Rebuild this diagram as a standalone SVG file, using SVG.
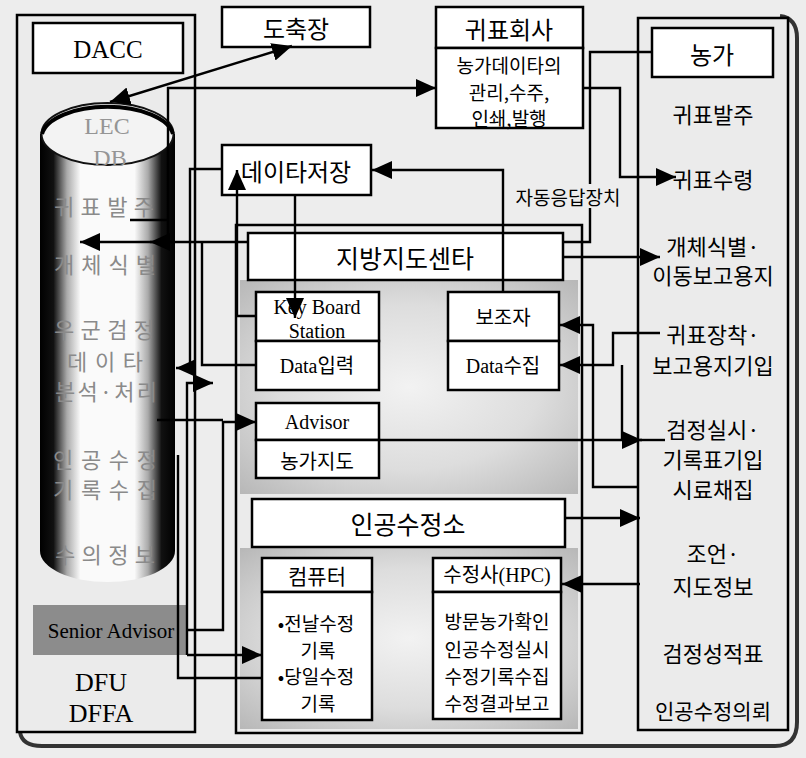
<svg xmlns="http://www.w3.org/2000/svg" width="806" height="758" viewBox="0 0 806 758">
<style>
.bg{fill:#ededed}
.panel{fill:#ebebeb;stroke:#000;stroke-width:2.5}
.box{fill:#fff;stroke:#000;stroke-width:2.5}
.ln{fill:none;stroke:#000;stroke-width:2.4}
.k{font-family:"Noto Sans CJK KR","Noto Sans",sans-serif;fill:#000;text-anchor:middle;dominant-baseline:central}
.s{font-family:"Liberation Serif","Noto Sans CJK KR",serif;fill:#000;text-anchor:middle;dominant-baseline:central}
.cy{font-family:"Noto Sans CJK KR",sans-serif;fill:#8a8a8a;font-size:22px;text-anchor:middle;dominant-baseline:central}
.cys{font-family:"Liberation Serif",serif;fill:#959595;font-size:24px;text-anchor:middle;dominant-baseline:central}
.f24{font-size:24px}.f20{font-size:20px}.f19{font-size:19px}.f22{font-size:22px}.f26{font-size:26px}
</style>
<defs>
<marker id="ah" viewBox="0 0 20 18" refX="20" refY="9" markerWidth="20" markerHeight="18" markerUnits="userSpaceOnUse" orient="auto-start-reverse"><path d="M0,0 L20,9 L0,18 z" fill="#000"/></marker>
<linearGradient id="cylg" x1="0" y1="0" x2="1" y2="0">
<stop offset="0" stop-color="#000"/><stop offset="0.1" stop-color="#111"/><stop offset="0.2" stop-color="#aaa"/><stop offset="0.3" stop-color="#fafafa"/><stop offset="0.7" stop-color="#fafafa"/><stop offset="0.8" stop-color="#aaa"/><stop offset="0.9" stop-color="#111"/><stop offset="1" stop-color="#000"/>
</linearGradient>
<radialGradient id="shade" cx="0.5" cy="0.5" r="0.7">
<stop offset="0" stop-color="#f2f2f2"/><stop offset="0.55" stop-color="#dddddd"/><stop offset="1" stop-color="#b8b8b8"/>
</radialGradient>
</defs>
<rect class="bg" x="0" y="0" width="806" height="758"/>
<path d="M20,732 Q22,746 42,746 H775 Q797,746 797,722 V38 Q797,18 780,16" fill="none" stroke="#333" stroke-width="4"/>

<g id="dfu-panel">
<rect class="panel" x="17" y="15" width="178" height="717"/>
<text class="s f26" x="101" y="682">DFU</text>
<text class="s f26" x="101" y="713">DFFA</text>
</g>
<g id="farm-panel">
<rect class="panel" x="638" y="18" width="150" height="712"/>
<text class="k f22" x="713" y="113">귀표발주</text>
<text class="k f22" x="713" y="178">귀표수령</text>
<text class="k f22" x="713" y="245">개체식별·</text>
<text class="k f22" x="713" y="274">이동보고용지</text>
<text class="k f22" x="713" y="333">귀표장착·</text>
<text class="k f22" x="713" y="364">보고용지기입</text>
<text class="k f22" x="713" y="428">검정실시·</text>
<text class="k f22" x="713" y="458">기록표기입</text>
<text class="k f22" x="713" y="488">시료채집</text>
<text class="k f22" x="713" y="552">조언·</text>
<text class="k f22" x="713" y="585">지도정보</text>
<text class="k f22" x="713" y="652">검정성적표</text>
<text class="k" style="font-size:21px" x="713" y="710">인공수정의뢰</text>
</g>
<g id="center-panel">
<rect class="panel" x="236" y="225" width="346" height="508"/>
<rect x="240" y="280" width="338" height="214" fill="url(#shade)"/>
<rect x="240" y="548" width="338" height="181" fill="url(#shade)"/>
</g>

<g id="dacc">
<rect class="box" x="33" y="23" width="150" height="50"/>
<text class="s" style="font-size:25px" x="108" y="49">DACC</text>
</g>
<g id="lec-db">
<rect x="40" y="134" width="135" height="417" fill="url(#cylg)"/>
<ellipse cx="107.5" cy="551" rx="67.5" ry="31" fill="url(#cylg)"/>
<ellipse cx="107.5" cy="134" rx="66" ry="31" fill="#f3f3f3" stroke="#111" stroke-width="2"/>
<path d="M42,134 A66,31 0 0 1 173,134" fill="none" stroke="#000" stroke-width="4"/>
<text class="cys" x="107" y="126">LEC</text>
<text class="cys" x="110" y="158">DB</text>
<text class="cy" x="104" y="205" textLength="100" lengthAdjust="spacing">귀표발주</text>
<text class="cy" x="105" y="263" textLength="102" lengthAdjust="spacing">개체식별</text>
<text class="cy" x="104" y="328" textLength="100" lengthAdjust="spacing">우군검정</text>
<text class="cy" x="105" y="360" textLength="76" lengthAdjust="spacing">데이타</text>
<text class="cy" x="106" y="390" textLength="102" lengthAdjust="spacing">분석·처리</text>
<text class="cy" x="105" y="458" textLength="104" lengthAdjust="spacing">인공수정</text>
<text class="cy" x="105" y="488" textLength="104" lengthAdjust="spacing">기록수집</text>
<text class="cy" x="105" y="553" textLength="100" lengthAdjust="spacing">수의정보</text>
</g>
<g id="senior-advisor">
<rect x="33" y="605" width="154" height="50" fill="#8c8c8c"/>
<text class="s" style="font-size:21px" x="111" y="631">Senior Advisor</text>
</g>

<g id="slaughterhouse">
<rect class="box" x="222" y="7" width="148" height="40"/>
<text class="k f24" x="296" y="27">도축장</text>
</g>
<g id="eartag-company">
<rect class="box" x="436" y="7" width="147" height="41"/>
<rect class="box" x="436" y="48" width="147" height="80"/>
<text class="k f24" x="509" y="28">귀표회사</text>
<text class="k f19" x="509" y="64">농가데이타의</text>
<text class="k f19" x="509" y="91">관리,수주,</text>
<text class="k f19" x="509" y="117">인쇄,발행</text>
</g>
<g id="data-store">
<rect class="box" x="222" y="145" width="149" height="50"/>
<text class="k f24" x="296" y="170">데이타저장</text>
</g>
<g id="farm">
<rect class="box" x="652" y="28" width="121" height="49"/>
<text class="k f24" x="712" y="53">농가</text>
</g>
<g id="regional-center">
<rect class="box" x="248" y="233" width="315" height="47"/>
<text class="k" style="font-size:25px" x="405" y="257">지방지도센타</text>
</g>
<g id="keyboard-station">
<rect class="box" x="256" y="292" width="123" height="49"/>
<rect class="box" x="256" y="341" width="123" height="49"/>
<text class="s f20" x="317" y="307">Key Board</text>
<text class="s f20" x="317" y="331">Station</text>
<text class="s f20" x="317" y="366">Data입력</text>
</g>
<g id="assistant">
<rect class="box" x="448" y="292" width="111" height="49"/>
<rect class="box" x="448" y="341" width="111" height="49"/>
<text class="k f20" x="503" y="316">보조자</text>
<text class="s f20" x="503" y="366">Data수집</text>
</g>
<g id="advisor">
<rect class="box" x="256" y="403" width="123" height="37"/>
<rect class="box" x="256" y="440" width="123" height="38"/>
<text class="s f20" x="317" y="422">Advisor</text>
<text class="k f20" x="317" y="460">농가지도</text>
</g>
<g id="ai-station">
<rect class="box" x="252" y="499" width="313" height="48"/>
<text class="k" style="font-size:25px" x="408" y="523">인공수정소</text>
</g>
<g id="computer">
<rect class="box" x="262" y="558" width="110" height="34"/>
<rect class="box" x="262" y="592" width="110" height="128"/>
<text class="k" style="font-size:21px" x="317" y="575">컴퓨터</text>
<text class="k f19" x="316" y="622">•전날수정</text>
<text class="k f19" x="318" y="649">기록</text>
<text class="k f19" x="316" y="675">•당일수정</text>
<text class="k f19" x="318" y="702">기록</text>
</g>
<g id="hpc">
<rect class="box" x="433" y="558" width="128" height="34"/>
<rect class="box" x="433" y="592" width="128" height="127"/>
<text class="s f20" x="497" y="575">수정사(HPC)</text>
<text class="k f19" x="497" y="620">방문농가확인</text>
<text class="k f19" x="497" y="648">인공수정실시</text>
<text class="k f19" x="497" y="675">수정기록수집</text>
<text class="k f19" x="497" y="702">수정결과보고</text>
</g>
<g id="auto-response-label">
<text class="k f19" x="568" y="196">자동응답장치</text>
</g>

<g id="connectors">
<line class="ln" x1="110" y1="102" x2="292" y2="46" marker-start="url(#ah)" marker-end="url(#ah)"/>
<path class="ln" d="M168,242 V88 H436" marker-end="url(#ah)"/>
<path class="ln" d="M168,220 H130"/>
<path class="ln" d="M652,52 H590 V184"/>
<path class="ln" d="M590,208 V242 H563"/>
<path class="ln" d="M248,242 H80" marker-end="url(#ah)"/>
<path class="ln" d="M172,242 H150" marker-end="url(#ah)"/>
<path class="ln" d="M583,88 H620 V177 H676" marker-end="url(#ah)"/>
<path class="ln" d="M503,292 V170 H372" marker-end="url(#ah)"/>
<path class="ln" d="M295,195 V318" marker-end="url(#ah)"/>
<path class="ln" d="M256,316 H237 V170" marker-end="url(#ah)"/>
<path class="ln" d="M222,169 H190 V368 H176" marker-end="url(#ah)"/>
<path class="ln" d="M256,365 H202 V242"/>
<path class="ln" d="M187,655 V383 H213" marker-end="url(#ah)"/>
<path class="ln" d="M187,655 H262" marker-end="url(#ah)"/>
<path class="ln" d="M157,420 H223"/>
<path class="ln" d="M187,630 H223 V422 H256" marker-end="url(#ah)"/>
<path class="ln" d="M262,678 H178 V455"/>
<path class="ln" d="M563,257 H660" marker-end="url(#ah)"/>
<path class="ln" d="M638,487 H593 V325 H560" marker-end="url(#ah)"/>
<path class="ln" d="M660,333 H613 V365 H560" marker-end="url(#ah)"/>
<path class="ln" d="M622,365 V440"/>
<path class="ln" d="M379,440 H642" marker-end="url(#ah)"/>
<path class="ln" d="M640,440 H665"/>
<path class="ln" d="M565,518 H640" marker-end="url(#ah)"/>
<path class="ln" d="M640,584 H562" marker-end="url(#ah)"/>
</g>
</svg>
